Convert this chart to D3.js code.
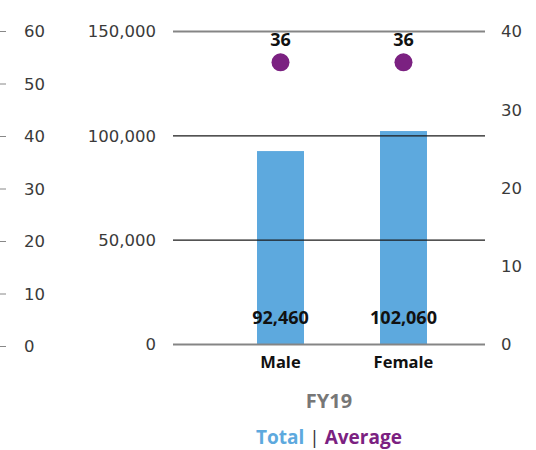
<!DOCTYPE html>
<html>
<head>
<meta charset="utf-8">
<script src="https://cdn.jsdelivr.net/npm/d3@7"></script>
<style>
  body { margin: 0; background: #fff; }
  svg { display: block; }
  .tick text { font-family: "DejaVu Sans", sans-serif; font-size: 16.5px; fill: #3a3a3a; }
  .lbl { font-family: "Open Sans", sans-serif; font-weight: bold; }
</style>
</head>
<body>
<div id="chart-area"></div>
<script>
// chart values
const categories = ["Male", "Female"];
const totals = [92460, 102060];
const averages = [36, 36];
const totalTicks = [0, 50000, 100000, 150000];
const averageTicks = [0, 10, 20, 30, 40];
const outerTicks = [0, 10, 20, 30, 40, 50, 60];
const period = "FY19";
const legendItems = ["Total", "Average"];

const svgWidth = 536, svgHeight = 450;
const plot = {left: 173, right: 485, top: 31, bottom: 344};

const barColor = "#5da9de";
const dotColor = "#7b2181";

var canvas = d3.select("#chart-area").append("svg")
               .attr("width", svgWidth)
               .attr("height", svgHeight);

var yTotal = d3.scaleLinear()
               .domain([0, 150000])
               .range([plot.bottom, plot.top]);

var yAvg = d3.scaleLinear()
             .domain([0, 40])
             .range([plot.bottom, plot.top]);

var yOuter = d3.scaleLinear()
               .domain([0, 60])
               .range([plot.bottom + 2, plot.top]);

var xScale = d3.scaleBand()
               .domain(categories)
               .range([181, 503])
               .padding(0.618);

// outer (cut off) axis on the far left
var outerAxis = canvas.append("g")
                      .attr("transform", "translate(0,0)")
                      .call(d3.axisRight(yOuter).tickValues(outerTicks).tickSize(6).tickPadding(18));
outerAxis.select(".domain").remove();
outerAxis.selectAll(".tick line").attr("stroke", "#888");

// main left axis with gridlines
var leftAxis = canvas.append("g")
                     .attr("transform", "translate(" + plot.left + ",0)")
                     .call(d3.axisLeft(yTotal).tickValues(totalTicks)
                             .tickSize(-(plot.right - plot.left)).tickPadding(17)
                             .tickFormat(d3.format(",")));
leftAxis.select(".domain").remove();
leftAxis.selectAll(".tick line")
        .attr("stroke", d => (d == 0 || d == 150000) ? "#858585" : "#1a1a1a")
        .attr("stroke-width", d => (d == 0 || d == 150000) ? 1.8 : 1.3);

// right axis for averages
var rightAxis = canvas.append("g")
                      .attr("transform", "translate(" + plot.right + ",0)")
                      .call(d3.axisRight(yAvg).tickValues(averageTicks).tickSize(0).tickPadding(16));
rightAxis.select(".domain").remove();

canvas.selectAll(".tick text").attr("dy", "0.36em");

// bars
canvas.selectAll("rect.bar")
      .data(totals)
      .enter()
      .append("rect")
      .attr("class", "bar")
      .attr("x", (d, i) => xScale(categories[i]))
      .attr("y", d => yTotal(d))
      .attr("width", xScale.bandwidth())
      .attr("height", d => yTotal(0) - yTotal(d))
      .attr("fill", barColor);

// move bottom gridline above bars
leftAxis.raise();

canvas.selectAll("text.total")
      .data(totals)
      .enter()
      .append("text")
      .attr("class", "lbl total")
      .attr("x", (d, i) => xScale(categories[i]) + xScale.bandwidth() / 2)
      .attr("y", plot.bottom - 20)
      .attr("text-anchor", "middle")
      .attr("font-size", 18)
      .attr("fill", "#111")
      .text(d => d3.format(",")(d));

// average dots
canvas.selectAll("circle")
      .data(averages)
      .enter()
      .append("circle")
      .attr("cx", (d, i) => xScale(categories[i]) + xScale.bandwidth() / 2)
      .attr("cy", d => yAvg(d))
      .attr("r", 9)
      .attr("fill", dotColor);

canvas.selectAll("text.avg")
      .data(averages)
      .enter()
      .append("text")
      .attr("class", "lbl avg")
      .attr("x", (d, i) => xScale(categories[i]) + xScale.bandwidth() / 2)
      .attr("y", d => yAvg(d) - 16)
      .attr("text-anchor", "middle")
      .attr("font-size", 18)
      .attr("fill", "#111")
      .text(d => d);

// category labels
canvas.selectAll("text.cat")
      .data(categories)
      .enter()
      .append("text")
      .attr("class", "lbl cat")
      .attr("x", d => xScale(d) + xScale.bandwidth() / 2)
      .attr("y", plot.bottom + 24)
      .attr("text-anchor", "middle")
      .attr("font-size", 16.5)
      .attr("fill", "#111")
      .text(d => d);

canvas.append("text")
      .attr("class", "lbl")
      .attr("x", 329)
      .attr("y", 408)
      .attr("text-anchor", "middle")
      .attr("font-size", 20)
      .attr("fill", "#777")
      .text(period);

var legend = canvas.append("text")
                   .attr("class", "lbl")
                   .attr("x", 329)
                   .attr("y", 444)
                   .attr("text-anchor", "middle")
                   .attr("font-size", 19);
legend.append("tspan").attr("fill", barColor).text(legendItems[0]);
legend.append("tspan").attr("fill", "#333").attr("font-weight", "normal").text(" | ");
legend.append("tspan").attr("fill", dotColor).text(legendItems[1]);
</script>
</body>
</html>
